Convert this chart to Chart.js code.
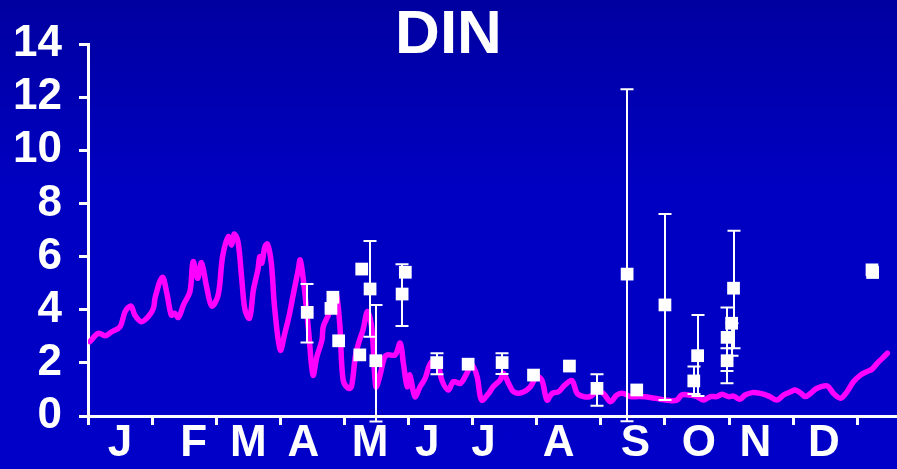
<!DOCTYPE html>
<html>
<head>
<meta charset="utf-8">
<script src="https://cdn.jsdelivr.net/npm/chart.js@4.4.1/dist/chart.umd.min.js"></script>
<style>
  html, body { margin: 0; padding: 0; }
  body {
    width: 897px;
    height: 469px;
    overflow: hidden;
    background: linear-gradient(#0000a0 0%, #0000c2 40%, #0000c8 100%);
  }
</style>
</head>
<body>
<canvas id="chart" width="897" height="469"></canvas>
<script>
// ── Data (x in months from 1 Jan) ────────────────────────────────────────────
const MONTH_LABELS = ["J", "F", "M", "A", "M", "J", "J", "A", "S", "O", "N", "D"];
const MONTH_LABEL_POS = [0.5, 1.65, 2.5, 3.36, 4.4, 5.29, 6.17, 7.34, 8.54, 9.53, 10.41, 11.48];
const MONTH_BOUNDS = [0, 1, 2, 3, 4, 5, 6, 7, 8, 9, 10, 11, 12];

// model line
const modelX = [
  0.03, 0.16, 0.27, 0.37, 0.50, 0.58, 0.67, 0.73, 0.83, 0.94,
  1.02, 1.05, 1.16, 1.23, 1.30, 1.35, 1.41, 1.49, 1.59, 1.64,
  1.71, 1.77, 1.85, 1.93, 2.03, 2.10, 2.19, 2.24, 2.28, 2.34,
  2.40, 2.45, 2.52, 2.58, 2.65, 2.68, 2.71, 2.76, 2.80, 2.86,
  2.91, 3.00, 3.07, 3.14, 3.20, 3.28, 3.31, 3.36, 3.44, 3.51,
  3.57, 3.65, 3.67, 3.75, 3.85, 3.88, 3.93, 3.98, 4.06, 4.11,
  4.17, 4.22, 4.29, 4.36, 4.43, 4.49, 4.55, 4.62, 4.67, 4.79,
  4.87, 4.92, 4.98, 5.02, 5.10, 5.18, 5.26, 5.34, 5.44, 5.52,
  5.62, 5.70, 5.81, 5.91, 5.99, 6.07, 6.14, 6.25, 6.32, 6.43,
  6.48, 6.56, 6.64, 6.77, 6.90, 7.00, 7.08, 7.16, 7.24, 7.34,
  7.44, 7.55, 7.63, 7.73, 7.83, 7.94, 8.04, 8.15, 8.25, 8.35,
  8.46, 8.61, 8.77, 8.93, 9.08, 9.19, 9.26, 9.37, 9.50, 9.60,
  9.71, 9.81, 9.89, 9.99, 10.07, 10.17, 10.25, 10.36, 10.49, 10.62,
  10.75, 10.85, 10.96, 11.03, 11.11, 11.19, 11.27, 11.37, 11.53, 11.63,
  11.74, 11.84, 11.94, 12.05, 12.15, 12.23, 12.31, 12.39, 12.47,
];
const modelDIN = [
  2.80, 3.11, 3.02, 3.17, 3.36, 3.93, 4.14, 3.80, 3.55, 3.74,
  4.05, 4.49, 5.22, 4.62, 3.80, 3.87, 3.71, 4.18, 4.68, 5.81,
  5.18, 5.77, 4.87, 4.14, 4.55, 6.00, 6.75, 6.44, 6.85, 6.56,
  5.12, 3.99, 3.68, 4.74, 5.50, 6.00, 5.75, 6.37, 6.47, 5.75,
  4.11, 2.48, 3.11, 3.80, 4.55, 5.50, 5.87, 5.12, 3.24, 1.54,
  2.23, 2.86, 3.36, 3.80, 4.49, 4.55, 3.36, 1.35, 1.04, 1.10,
  2.23, 2.74, 3.24, 3.93, 3.24, 1.10, 1.48, 2.17, 2.30, 2.30,
  2.74, 1.98, 1.10, 1.54, 0.73, 1.10, 1.42, 1.98, 2.11, 1.35,
  0.98, 1.29, 1.23, 1.61, 1.92, 1.48, 0.60, 0.85, 1.10, 1.35,
  1.61, 1.23, 0.91, 0.88, 1.10, 1.48, 1.35, 0.60, 0.85, 0.91,
  1.17, 1.33, 0.85, 0.73, 0.73, 0.91, 0.85, 0.54, 0.79, 0.85,
  0.73, 0.73, 0.70, 0.63, 0.58, 0.60, 0.79, 0.79, 0.73, 0.60,
  0.73, 0.73, 0.82, 0.73, 0.75, 0.63, 0.79, 0.88, 0.85, 0.75,
  0.60, 0.79, 0.91, 0.98, 0.88, 0.73, 0.85, 1.04, 1.13, 0.85,
  0.67, 0.91, 1.29, 1.54, 1.67, 1.76, 1.98, 2.17, 2.36,
];

// observations (null = no error bar)
const obsX = [
  3.42, 3.82, 3.79, 3.91, 4.27, 4.24, 4.40, 4.49, 4.90, 4.95,
  5.44, 5.93, 6.46, 6.95, 7.51, 7.94, 8.41, 8.56, 9.00, 9.51,
  9.45, 10.07, 10.04, 9.97, 9.97, 12.23, 12.24,
];
const obsDIN = [
  3.90, 4.47, 4.05, 2.83, 5.53, 2.30, 4.78, 2.08, 4.59, 5.41,
  2.01, 1.95, 2.01, 1.54, 1.88, 1.04, 5.34, 0.98, 4.18, 2.27,
  1.32, 4.81, 3.49, 2.96, 2.08, 5.50, 5.40,
];
const obsLo = [
  2.77, null, null, null, null, null, 2.98, -0.21, 3.39, null,
  1.57, null, 1.58, null, null, 0.39, -0.20, null, 0.60, 0.75,
  0.83, 2.55, 2.27, 1.69, 1.23, null, null,
];
const obsHi = [
  4.97, null, null, null, null, null, 6.59, 4.18, 5.71, null,
  2.36, null, 2.36, null, null, 1.57, 12.30, null, 7.60, 3.80,
  1.86, 6.97, 3.49, 4.08, 2.55, null, null,
];

// ── Helpers ──────────────────────────────────────────────────────────────────
const FONT = "'Liberation Sans', Arial, sans-serif";
const toPoints = (xs, ys) => xs.map((x, i) => ({ x, y: ys[i] }));

// error bars drawn just before the observation squares
const errorBars = {
  id: "errorBars",
  beforeDatasetDraw(chart, args) {
    if (args.index !== 0) return;
    const { x, y } = chart.scales;
    const ctx = chart.ctx;
    const cap = 6.5;
    ctx.save();
    ctx.strokeStyle = "#ffffff";
    ctx.lineWidth = 2;
    obsX.forEach((m, i) => {
      if (obsLo[i] == null) return;
      const px = Math.round(x.getPixelForValue(m));
      const top = y.getPixelForValue(obsHi[i]);
      const bot = y.getPixelForValue(obsLo[i]);
      ctx.beginPath();
      ctx.moveTo(px, top);
      ctx.lineTo(px, bot);
      ctx.moveTo(px - cap, top);
      ctx.lineTo(px + cap, top);
      ctx.moveTo(px - cap, bot);
      ctx.lineTo(px + cap, bot);
      ctx.stroke();
    });
    ctx.restore();
  },
};

// ── Chart ────────────────────────────────────────────────────────────────────
new Chart(document.getElementById("chart"), {
  type: "scatter",
  data: {
    datasets: [
      {
        label: "Observed",
        data: toPoints(obsX, obsDIN),
        pointStyle: "rect",
        pointRadius: 9,
        backgroundColor: "#ffffff",
        borderWidth: 0,
      },
      {
        label: "Model",
        type: "line",
        data: toPoints(modelX, modelDIN),
        borderColor: "#ff00ff",
        borderWidth: 5.5,
        tension: 0.35,
        pointRadius: 0,
        borderCapStyle: "round",
        borderJoinStyle: "round",
      },
    ],
  },
  options: {
    responsive: false,
    animation: false,
    events: [],
    layout: { autoPadding: false, padding: 0 },
    plugins: {
      legend: { display: false },
      tooltip: { enabled: false },
      title: {
        display: true,
        text: "DIN",
        color: "#ffffff",
        font: { family: FONT, size: 62, weight: "bold", lineHeight: 1 },
        padding: { top: 5, bottom: -23 },
      },
    },
    scales: {
      x: {
        type: "linear",
        min: 0,
        max: 12.62,
        afterBuildTicks: (axis) => {
          axis.ticks = [...MONTH_BOUNDS, ...MONTH_LABEL_POS]
            .sort((a, b) => a - b)
            .map((v) => ({ value: v }));
        },
        afterFit: (s) => {
          s.height = 53;
          s.paddingLeft = 0;
          s.paddingRight = 0;
        },
        ticks: {
          autoSkip: false,
          maxRotation: 0,
          padding: -8,
          color: "#ffffff",
          font: { family: FONT, size: 44, weight: "bold" },
          callback: (v) => {
            const i = MONTH_LABEL_POS.indexOf(v);
            return i >= 0 ? MONTH_LABELS[i] : "";
          },
        },
        grid: {
          drawOnChartArea: false,
          drawTicks: true,
          tickLength: 9,
          lineWidth: 3,
          color: (c) => (c.tick && Number.isInteger(c.tick.value) ? "#ffffff" : "rgba(0,0,0,0)"),
        },
        border: { color: "#ffffff", width: 3 },
      },
      y: {
        min: 0,
        max: 14,
        afterFit: (s) => { s.width = 88; },
        ticks: {
          stepSize: 2,
          autoSkip: false,
          padding: 17,
          color: "#ffffff",
          font: { family: FONT, size: 44, weight: "bold" },
        },
        grid: {
          drawOnChartArea: false,
          drawTicks: true,
          tickLength: 9,
          lineWidth: 3,
          color: "#ffffff",
        },
        border: { color: "#ffffff", width: 3 },
      },
    },
  },
  plugins: [errorBars],
});
</script>
</body>
</html>
